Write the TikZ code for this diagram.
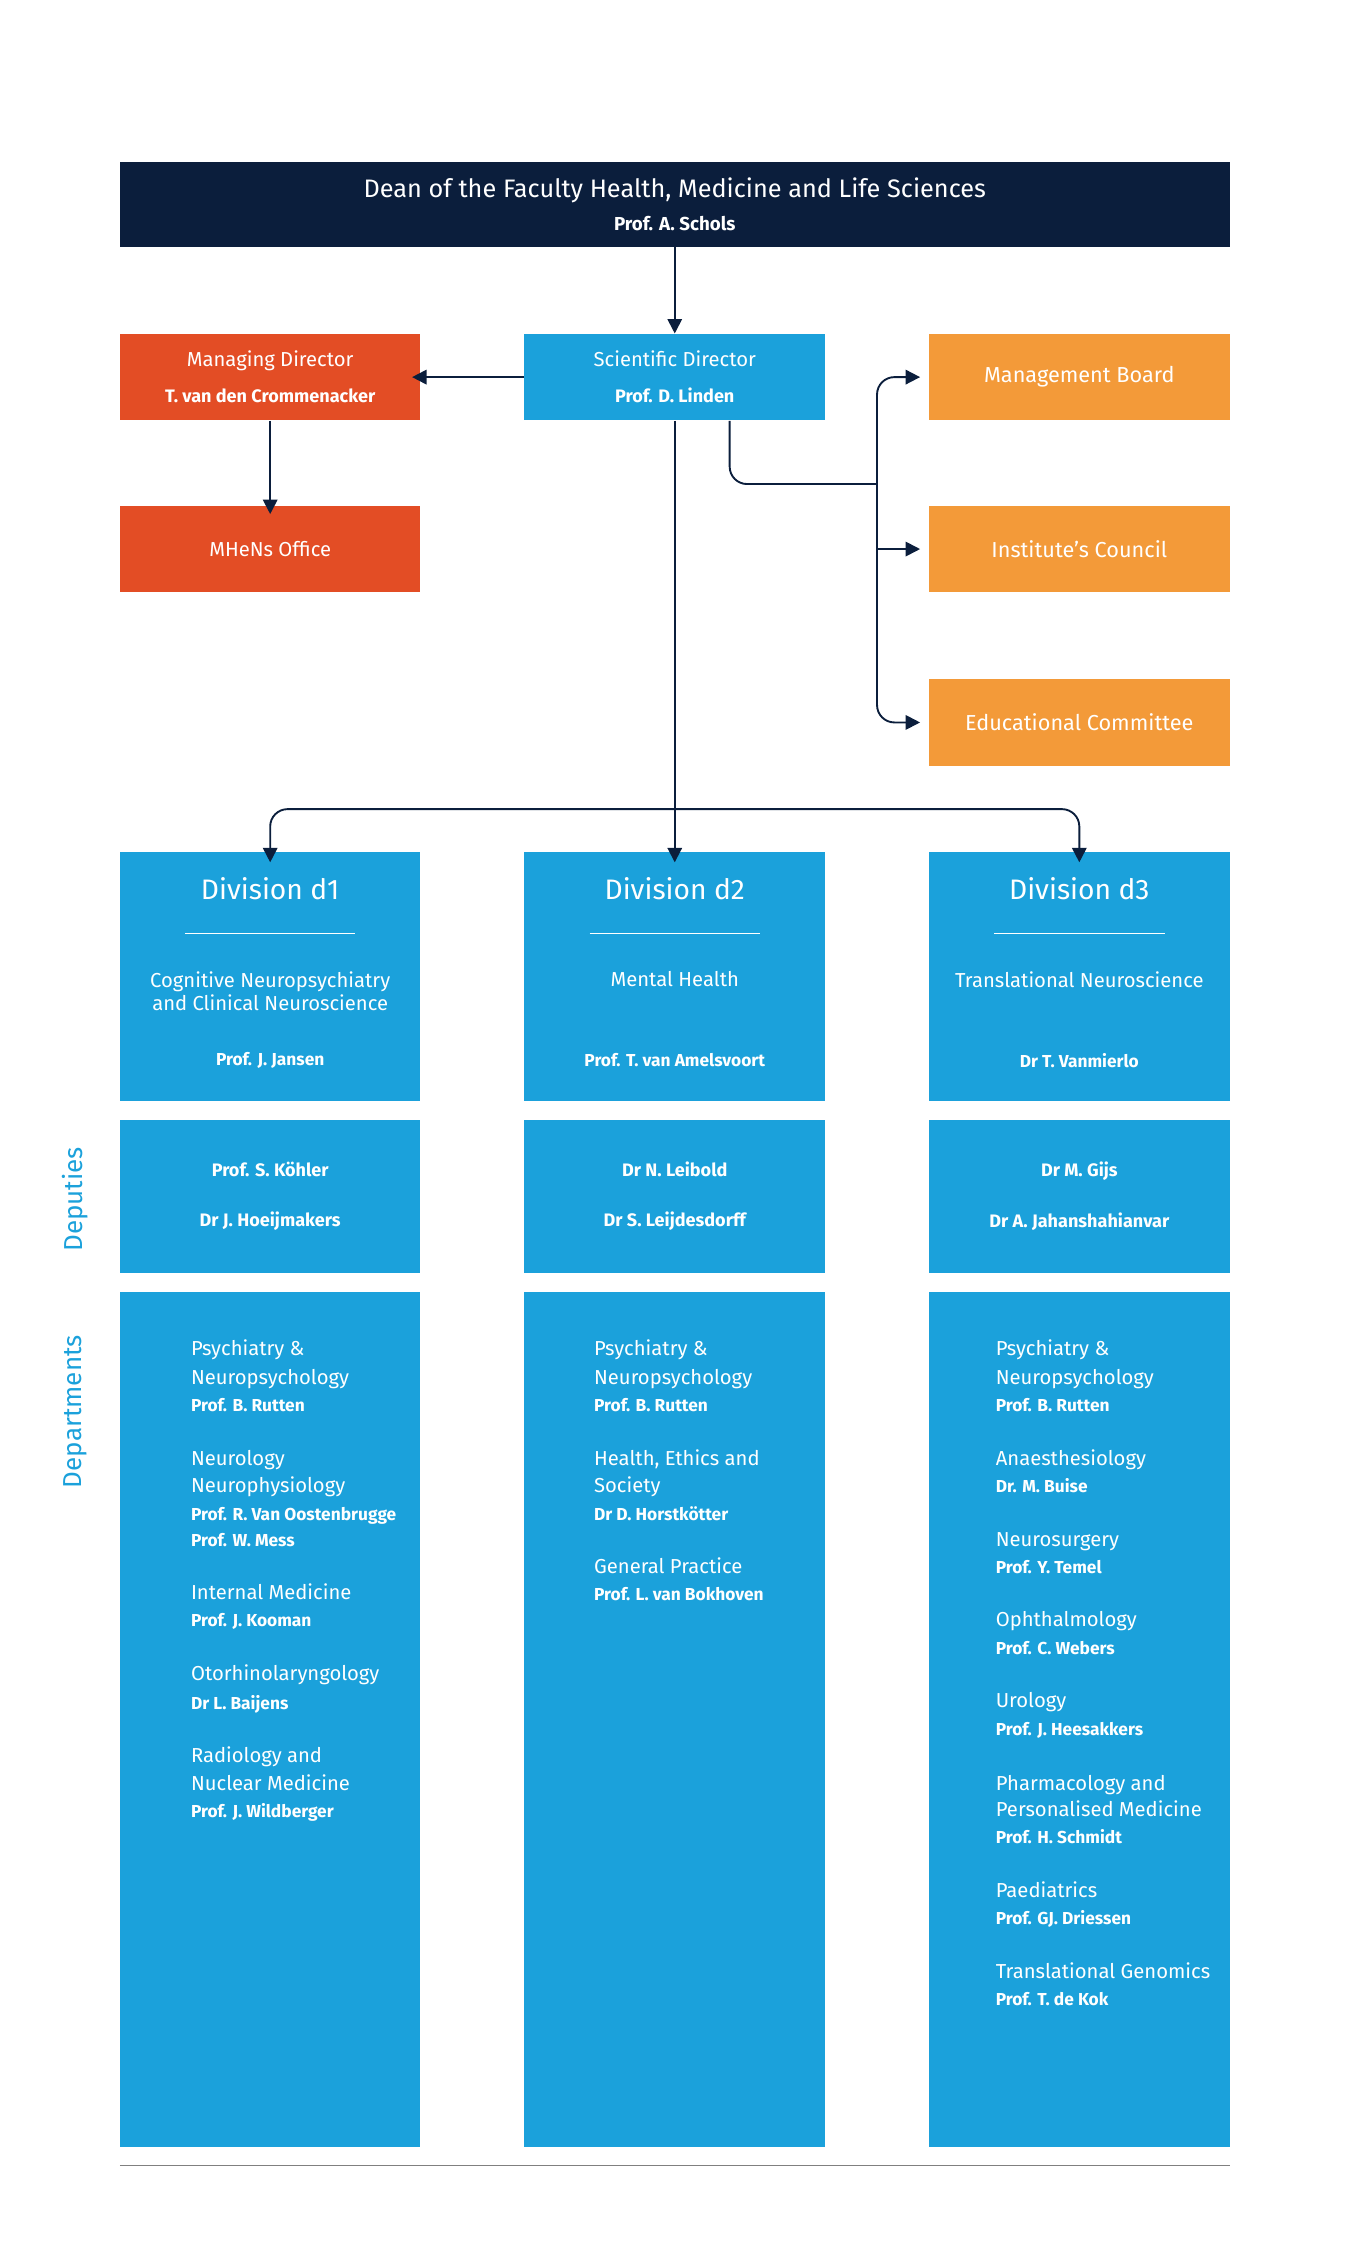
\documentclass[tikz,border=0pt]{standalone}
\usepackage{fontspec}
\setmainfont{Fira Sans}
\usetikzlibrary{arrows.meta}
\definecolor{navy}{HTML}{0B1E3C}
\definecolor{red}{HTML}{E34D25}
\definecolor{ora}{HTML}{F39A39}
\definecolor{blu}{HTML}{1BA1DB}
\begin{document}
\begin{tikzpicture}[x=1pt,y=-1pt,
  box/.style={inner sep=0, minimum width=208, minimum height=60, text=white, align=center, font=\fontsize{14}{25}\selectfont},
  arr/.style={draw=navy, line width=1.3pt, -{Triangle[length=10pt,width=10pt]}, rounded corners=12pt},
  dr/.style={text=white, inner sep=0, font=\fontsize{14}{16}\selectfont},
  db/.style={text=white, inner sep=0, font=\fontsize{12}{14}\selectfont\bfseries},
  side/.style={text=blu, rotate=90, font=\fontsize{18}{20}\selectfont}]
\useasboundingbox (0,0) rectangle (935,1569);
\node[box, fill=navy, minimum width=768, minimum height=59, font=\fontsize{17.5}{26}\selectfont] (dean) at (467,141.5) {Dean of the Faculty Health, Medicine and Life Sciences\\[-3pt]{\fontsize{13}{15}\selectfont\bfseries Prof. A. Schols}};
\node[box, fill=blu] (sd) at (467,261) {Scientific Director\\{\fontsize{12.5}{14}\selectfont\bfseries Prof. D. Linden}};
\node[box, fill=red] (md) at (187,261) {Managing Director\\{\fontsize{12.5}{14}\selectfont\bfseries T. van den Crommenacker}};
\node[box, fill=red] (office) at (187,380) {MHeNs Office};
\node[box, fill=ora, font=\fontsize{15}{17}\selectfont] (mb) at (747,261) {Management Board};
\node[box, fill=ora, font=\fontsize{15}{17}\selectfont] (ic) at (747,380) {Institute's Council};
\node[box, fill=ora, font=\fontsize{15}{17}\selectfont] (ec) at (747,500) {Educational Committee};
% divisions
\foreach \n/\cx/\sub/\nm in {d1/187/{Cognitive Neuropsychiatry\\and Clinical Neuroscience}/Prof. J. Jansen,
  d2/467/{Mental Health}/Prof. T. van Amelsvoort,
  d3/747/{Translational Neuroscience}/Dr T. Vanmierlo}{
  \node[box, fill=blu, minimum height=172] (\n) at (\cx,676) {};
  \node[text=white, font=\fontsize{19.5}{22}\selectfont] (\n t) at (\cx,615) {Division \n};
  \draw[white, line width=0.9pt] (\cx-59,646) -- (\cx+59,646);
  \node[dr, align=center, anchor=north] (\n s) at (\cx,672) {\sub};
  \node[db] (\n n) at (\cx,734) {\nm};
}
\node[box, fill=blu, minimum height=106, font=\fontsize{12.5}{35}\selectfont\bfseries] (p1) at (187,828) {Prof. S. Köhler\\Dr J. Hoeijmakers};
\node[box, fill=blu, minimum height=106, font=\fontsize{12.5}{35}\selectfont\bfseries] (p2) at (467,828) {Dr N. Leibold\\Dr S. Leijdesdorff};
\node[box, fill=blu, minimum height=106, font=\fontsize{12.5}{35}\selectfont\bfseries] (p3) at (747,828) {Dr M. Gijs\\Dr A. Jahanshahianvar};
\node[box, fill=blu, minimum height=592] (q1) at (187,1190) {};
\node[box, fill=blu, minimum height=592] (q2) at (467,1190) {};
\node[box, fill=blu, minimum height=592] (q3) at (747,1190) {};
\node[side] (dep) at (52,830) {Deputies};
\node[side] (dpt) at (52,977) {Departments};
% department lists
\foreach \y/\s/\t in {933/dr/Psychiatry \&, 953/dr/Neuropsychology, 972/db/Prof. B. Rutten,
 1009/dr/Neurology / Clinical, 1028/dr/Neurophysiology, 1047/db/Prof. R. Van Oostenbrugge, 1065/db/Prof. W. Mess,
 1102/dr/Internal Medicine, 1121/db/Prof. J. Kooman, 1158/dr/Otorhinolaryngology, 1178/db/Dr L. Baijens,
 1215/dr/Radiology and, 1234/dr/Nuclear Medicine, 1253/db/Prof. J. Wildberger}
 {\node[\s, anchor=base west] at (132,\y+5) {\t};}
\foreach \y/\s/\t in {933/dr/Psychiatry \&, 953/dr/Neuropsychology, 972/db/Prof. B. Rutten,
 1009/dr/Health{,} Ethics and, 1028/dr/Society, 1047/db/Dr D. Horstkötter,
 1084/dr/General Practice, 1103/db/Prof. L. van Bokhoven}
 {\node[\s, anchor=base west] at (411,\y+5) {\t};}
\foreach \y/\s/\t in {933/dr/Psychiatry \&, 953/dr/Neuropsychology, 972/db/Prof. B. Rutten,
 1009/dr/Anaesthesiology, 1028/db/Dr. M. Buise, 1065/dr/Neurosurgery, 1084/db/Prof. Y. Temel,
 1121/dr/Ophthalmology, 1140/db/Prof. C. Webers, 1177/dr/Urology, 1196/db/Prof. J. Heesakkers,
 1234/dr/Pharmacology and, 1252/dr/Personalised Medicine, 1271/db/Prof. H. Schmidt,
 1308/dr/Paediatrics, 1327/db/Prof. GJ. Driessen, 1364/dr/Translational Genomics, 1383/db/Prof. T. de Kok}
 {\node[\s, anchor=base west] at (689,\y+5) {\t};}
\draw[gray, line width=0.8pt] (83,1499) -- (851,1499);
% connectors
\coordinate (j) at (607,335);
\draw[arr] (dean) -- (sd);
\draw[arr] (sd) -- ([xshift=-6pt]md.east);
\draw[arr] (md) -- ([yshift=-6pt]office.north);
\draw[navy, line width=1.3pt, rounded corners=12pt] ([xshift=38pt]sd.south) |- (j);
\draw[arr] (j) |- ([xshift=-6pt]mb.west);
\draw[arr] (j) |- ([xshift=-6pt]ec.west);
\draw[arr, rounded corners=0] (j |- ic.west) -- ([xshift=-6pt]ic.west);
\draw[arr] (sd) -- ([yshift=-7pt]d2.north);
\draw[arr] (467,560) -| ([yshift=-7pt]d1.north);
\draw[arr] (467,560) -| ([yshift=-7pt]d3.north);
\end{tikzpicture}
\end{document}
